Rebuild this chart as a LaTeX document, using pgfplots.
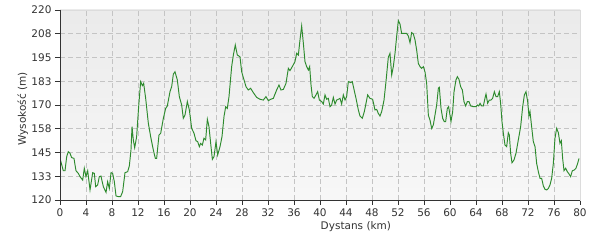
\documentclass[border=0pt]{standalone}
\usepackage{pgfplots}
\pgfplotsset{compat=1.18}
\usepackage{fontspec}
\setmainfont{DejaVu Sans}
\definecolor{txt}{HTML}{333333}
\definecolor{gridc}{HTML}{C4C4C4}
\definecolor{lineg}{HTML}{2E8B2E}
\definecolor{bordl}{HTML}{DCDCDC}
\begin{document}
\begin{tikzpicture}
\path[use as bounding box] (0,0) rectangle (600pt,240pt);
\begin{axis}[
  at={(60pt,40pt)}, anchor=south west,
  scale only axis, width=520pt, height=190pt,
  xmin=0, xmax=80, ymin=120, ymax=220,
  xtick={0,4,...,80},
  ytick={120,132.5,145,157.5,170,182.5,195,207.5,220},
  yticklabels={120,133,145,158,170,183,195,208,220},
  /pgf/number format/assume math mode=true,
  font=\fontsize{10.5}{12}\selectfont,
  tick label style={text=txt},
  xtick pos=bottom, ytick pos=left,
  tick align=outside,
  major tick length=5pt,
  every tick/.style={txt, line width=0.8pt},
  axis line style={bordl, line width=0.8pt},
  grid=major,
  major grid style={gridc, dash pattern=on 5pt off 3pt, line width=0.8pt},
  axis background/.style={top color=black!8, bottom color=black!3},
  xlabel={Dystans (km)},
  ylabel={Wysokość (m)},
  label style={text=txt},
  xlabel style={at={(axis description cs:0.569,0)}, anchor=base, yshift=-30pt},
  ylabel style={at={(axis description cs:-0.0654,0.48)}, anchor=base},
  clip mode=individual,
]
\addplot[lineg, line width=0.95pt] coordinates {
(0,141.9)(0.51,135.4)(0.77,135.4)(1.03,142.8)(1.28,145.4)(1.54,144.6)(1.79,142.3)(2.15,141.9)(2.46,135.4)(2.82,134)(3.08,132.3)(3.49,130.5)(3.74,136.7)(4.0,132.3)(4.26,135.4)(4.62,125.3)(5.03,134.4)(5.28,134)(5.49,127)(5.79,127.9)(6.05,132.3)(6.3,132.6)(6.67,127)(7.08,124)(7.33,129.6)(7.59,126.1)(7.85,134.4)(8.1,134)(8.36,129.6)(8.62,122.1)(8.97,121.8)(9.33,121.8)(9.64,124.4)(10.0,134.4)(10.41,134.9)(10.67,138)(10.92,146.3)(11.08,158.6)(11.28,151.6)(11.49,147.5)(11.79,153.3)(12.1,169.1)(12.41,182.3)(12.67,180.2)(12.87,181.4)(13.18,173.5)(13.59,160.4)(13.95,153.3)(14.36,146.3)(14.67,141.9)(14.87,141.9)(15.23,154.2)(15.49,155.1)(15.9,163)(16.26,168.2)(16.51,169.5)(16.92,177)(17.18,179.6)(17.44,186.3)(17.69,187.5)(18.05,183.2)(18.36,174.4)(18.72,170)(18.97,163)(19.23,164.7)(19.59,171.8)(19.9,167.4)(20.26,157.7)(20.62,155.1)(20.92,151.2)(21.18,150.7)(21.44,148.1)
(21.64,149.8)(21.9,148.9)(22.15,152.5)(22.41,151.6)(22.67,162.5)(22.92,158.6)(23.18,149.8)(23.44,141.4)(23.69,142.8)(24.0,150.7)(24.26,143.7)(24.62,148.1)(24.92,153.3)(25.23,163.9)(25.49,169.1)(25.74,168.2)(26.0,174.4)(26.41,190.2)(26.67,196.3)(26.97,201.6)(27.28,196.3)(27.69,195.4)(27.95,187.5)(28.31,183.2)(28.62,179.6)(28.97,177.9)(29.33,178.8)(29.74,176.5)(30.26,174)(30.77,173)(31.28,172.6)(31.69,174.4)(32.05,172.3)(32.41,173)(32.82,173.5)(33.33,177.9)(33.69,180.5)(34.0,177.9)(34.36,178.2)(34.77,181.4)(35.13,189.3)(35.38,188.1)(35.74,190.2)(36.15,192.8)(36.41,197.2)(36.67,196.3)(36.92,204.2)(37.18,211.6)(37.44,202.5)(37.69,192.8)(37.95,190.2)(38.21,188.4)(38.41,190.2)(38.62,180.5)(38.82,174.4)(39.08,173.5)(39.38,175.3)(39.64,177)(39.9,172.6)(40.26,171.8)(40.51,170.5)(40.77,175.3)(41.03,173)(41.28,173.5)(41.54,169.1)(41.79,170)(42.05,174)(42.31,170.5)(42.56,172.6)(42.82,173)(43.08,173.5)(43.33,170.5)(43.59,175.3)(43.85,172.6)(44.1,174.4)(44.36,182.3)(44.72,181.8)(44.97,182.3)(45.23,178.2)(45.54,173.5)(45.9,167.4)(46.15,164.2)(46.51,163)(46.82,166.5)(47.08,170.9)(47.33,175.3)(47.69,173.5)(48.1,173)(48.46,167.4)(48.72,167.7)(48.97,165.6)(49.23,164.2)(49.49,166.5)(49.85,172.6)(50.15,182.3)(50.51,195.1)(50.77,197.2)(51.03,185.8)(51.28,190.2)(51.54,197.2)(51.79,206)
(52.05,214.4)(52.31,212.6)(52.56,207.7)(52.92,207.7)(53.33,207.7)(53.59,206.3)(53.85,202.8)(54.1,208.1)(54.36,207.4)(54.62,204.2)(54.87,198.9)(55.13,191.9)(55.38,190.2)(55.64,189.3)(55.9,190.2)(56.15,187.5)(56.41,181.4)(56.67,164.7)(56.92,162.1)(57.18,157.7)(57.44,159.5)(57.69,164.7)(57.95,170)(58.21,178.8)(58.36,179.3)(58.62,168.2)(58.87,163)(59.13,161.2)(59.33,161.2)(59.59,168.2)(59.79,169.1)(60.0,164.7)(60.15,161.2)(60.41,166.5)(60.62,177)(60.92,183.2)(61.13,184.9)(61.38,183.5)(61.64,179.6)(61.9,177.9)(62.15,171.8)(62.41,169.5)(62.67,171.8)(62.92,171.8)(63.18,169.5)(63.59,169.1)(64.0,169.1)(64.21,170)(64.41,169.5)(64.62,170.9)(64.87,169.5)(65.13,169.5)(65.38,173.5)(65.54,175.8)(65.79,170.9)(66.05,172.6)(66.31,172.6)(66.56,173.5)(66.82,177)(67.08,174.4)(67.33,174.4)(67.59,177)(67.79,170.9)(68.0,161.2)(68.21,155.1)(68.46,148.9)(68.72,148.1)(68.97,155.4)(69.13,154.2)(69.33,144.6)(69.54,139.6)(69.85,141.1)(70.15,144.6)(70.51,151.6)(70.87,158.6)(71.18,169.1)(71.44,175.3)(71.69,177)(71.95,171.8)(72.15,164.2)(72.31,166.5)(72.56,158.6)(72.82,150.7)(73.08,148.1)(73.33,139.3)(73.59,134.9)(73.85,131.4)(74.1,131.4)(74.36,127.4)(74.62,125.6)(74.87,125.3)(75.13,126.1)(75.38,127.9)(75.64,131.4)(75.9,139.3)(76.15,152.5)(76.41,157.7)(76.67,155.4)(76.92,149.8)(77.13,151.2)(77.33,141.9)(77.54,135.4)(77.79,136.7)(78.05,134.9)(78.31,133.7)(78.56,132.3)(78.82,135.4)(79.13,135.8)(79.38,136.7)(79.64,139.3)(79.85,141.9)
};
\draw[txt, line width=0.8pt] (rel axis cs:0,1) -- (rel axis cs:0,0) -- (rel axis cs:1,0);
\end{axis}
\end{tikzpicture}
\end{document}
